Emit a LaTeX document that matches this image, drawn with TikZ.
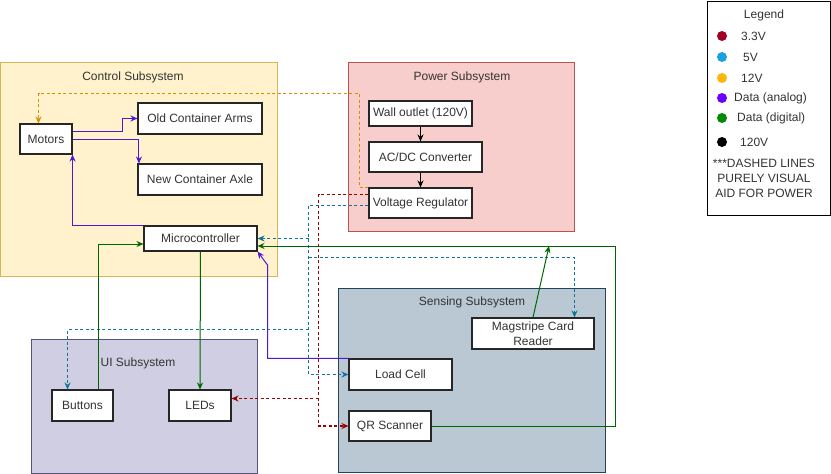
\documentclass[tikz,border=0pt]{standalone}
\usepackage{fontspec}
\setmainfont{Liberation Sans}
\usetikzlibrary{arrows.meta}
\definecolor{ctrlfill}{HTML}{FFF2CC}
\definecolor{ctrldraw}{HTML}{D6B656}
\definecolor{powfill}{HTML}{F8CECC}
\definecolor{powdraw}{HTML}{B85450}
\definecolor{uifill}{HTML}{D0CEE2}
\definecolor{uidraw}{HTML}{56517E}
\definecolor{sensfill}{HTML}{BAC8D3}
\definecolor{sensdraw}{HTML}{23445D}
\definecolor{line33}{HTML}{990000}
\definecolor{line5}{HTML}{10739E}
\definecolor{line12}{HTML}{D98E00}
\definecolor{lineana}{HTML}{4F17D8}
\definecolor{linedig}{HTML}{006600}
\definecolor{dot33}{HTML}{A20025}
\definecolor{dot5}{HTML}{1BA1E2}
\definecolor{dot12}{HTML}{FFB30D}
\definecolor{dotana}{HTML}{6A00FF}
\definecolor{dotdig}{HTML}{008A00}
\begin{document}
\begin{tikzpicture}[
		x=1pt, y=-1pt,
		font=\fontsize{12}{14}\selectfont,
		subsys/.style 2 args={rectangle, draw=#1, fill=#2, line width=1pt, inner sep=0pt},
		title/.style={text=black!80},
		part/.style={rectangle, draw=black!85, fill=white, line width=1.1pt, text=black!80,
			inner sep=0pt, minimum height=31pt, align=center},
		wire/.style={line width=1pt, -{Stealth[length=7pt,width=6pt]}},
		supply/.style={wire, draw=#1, line width=1.2pt, dash pattern=on 3pt off 2.5pt},
		signal/.style={wire, draw=#1},
		dot/.style={circle, fill=#1, minimum size=10pt, inner sep=0pt}
		]
	\useasboundingbox (0,0) rectangle (831,474);
	% subsystems
	\node [subsys={ctrldraw}{ctrlfill}, minimum width=277pt, minimum height=214pt] (ctrl) at (138.5,169) {};
	\node [subsys={powdraw}{powfill}, minimum width=226pt, minimum height=169pt] (pow) at (461,146.5) {};
	\node [subsys={uidraw}{uifill}, minimum width=226pt, minimum height=134pt] (ui) at (144,406) {};
	\node [subsys={sensdraw}{sensfill}, minimum width=267pt, minimum height=184pt] (sens) at (471.5,380) {};
	\node [title] (ctrl-title) at (133,77) {Control Subsystem};
	\node [title] (pow-title) at (462,77) {Power Subsystem};
	\node [title] (ui-title) at (138,363) {UI Subsystem};
	\node [title] (sens-title) at (472,302) {Sensing Subsystem};
	% parts
	\node [part, minimum width=52pt, minimum height=30pt] (motors) at (46,139) {Motors};
	\node [part, minimum width=124pt] (arms) at (200,118.5) {Old Container Arms};
	\node [part, minimum width=124pt] (axle) at (200,179.5) {New Container Axle};
	\node [part, minimum width=113pt, minimum height=25pt] (mc) at (200.5,238.5) {Microcontroller};
	\node [part, minimum width=103pt, minimum height=25pt] (wall) at (420.5,113.5) {Wall outlet (120V)};
	\node [part, minimum width=113pt, minimum height=30pt] (acdc) at (425.5,157) {AC/DC Converter};
	\node [part, minimum width=103pt, minimum height=30pt] (vr) at (420.5,203) {Voltage Regulator};
	\node [part, minimum width=122pt, font=\fontsize{12}{15}\selectfont] (mag) at (533,333.5) {Magstripe Card\\Reader};
	\node [part, minimum width=103pt] (lc) at (400.5,374.5) {Load Cell};
	\node [part, minimum width=82pt, minimum height=30pt] (qr) at (390,426) {QR Scanner};
	\node [part, minimum width=61pt] (btn) at (82.5,405.5) {Buttons};
	\node [part, minimum width=62pt] (leds) at (200,405.5) {LEDs};
	% bends
	\coordinate (o-bend) at (359.5,93.5);
	\coordinate (r-bend) at (318.5,398.5);
	\coordinate (b-mag) at (308.5,257.5);
	\coordinate (b-btn) at (308.5,329.5);
	\coordinate (g-bend) at (615.5,246);
	\coordinate (g-join) at (549,246);
	\coordinate (p-bend) at (267.5,265);
	% power
	\draw [signal=black] (wall.south) -- (wall.south |- acdc.north);
	\draw [signal=black] (acdc.south -| vr.north) -- (vr.north);
	\draw [supply=line12] (vr.north west) -| (o-bend) -| ([xshift=-7.5pt]motors.north);
	\draw [supply=line33] ([yshift=-7pt]vr.north west) -| (r-bend) |- (qr.west);
	\draw [supply=line33] (r-bend) -- (r-bend -| leds.east);
	\draw [supply=line5] ([yshift=-18pt]vr.north west) -| (lc.west -| b-mag) -- (lc.west);
	\draw [supply=line5] (mc.east -| b-mag) -- (mc.east);
	\draw [supply=line5] (b-mag) -| ([xshift=41.5pt]mag.north);
	\draw [supply=line5] (b-btn) -| ([xshift=-15pt]btn.north);
	% data
	\draw [signal=lineana] ([yshift=8pt]motors.east) -| ([xshift=-15pt]arms.west) -- (arms.west);
	\draw [signal=lineana] (motors.east) -| ([xshift=1.5pt]axle.north west);
	\draw [signal=lineana] (mc.north west) -| (motors.south east);
	\draw [signal=lineana] (lc.north west) -| (p-bend) -- (mc.south east);
	\draw [signal=linedig] (qr.east) -| (g-bend) -- ([yshift=-7.5pt]mc.east);
	\draw [signal=linedig] (mag.north) -- (g-join);
	\draw [signal=linedig] ([xshift=16pt]btn.north) |- ([yshift=-5.5pt]mc.west);
	\draw [signal=linedig] (mc.south) -- (leds.north);
	% legend
	\node [rectangle, draw=black, line width=1pt, minimum width=123pt, minimum height=214pt] (legend) at (768.5,108) {};
	\node [title] (legend-title) at (764,15) {Legend};
	\node [dot=dot33] (d-33) at (722,36) {};
	\node [dot=dot5] (d-5) at (722,57) {};
	\node [dot=dot12] (d-12) at (722,78) {};
	\node [dot=dotana] (d-ana) at (722,98) {};
	\node [dot=dotdig] (d-dig) at (722,118) {};
	\node [dot=black] (d-120) at (722,142) {};
	\node [title, anchor=west, inner sep=0pt] (t-33) at (741,36) {3.3V};
	\node [title, anchor=west, inner sep=0pt] (t-5) at (743,57) {5V};
	\node [title, anchor=west, inner sep=0pt] (t-12) at (741,78) {12V};
	\node [title, anchor=west, inner sep=0pt] (t-ana) at (734,98) {Data (analog)};
	\node [title, anchor=west, inner sep=0pt] (t-dig) at (737,118) {Data (digital)};
	\node [title, anchor=west, inner sep=0pt] (t-120) at (740,142) {120V};
	\node [title, align=center, font=\fontsize{12}{15}\selectfont] (note) at (764,178) {***DASHED LINES\\PURELY VISUAL\\AID FOR POWER};
\end{tikzpicture}
\end{document}
